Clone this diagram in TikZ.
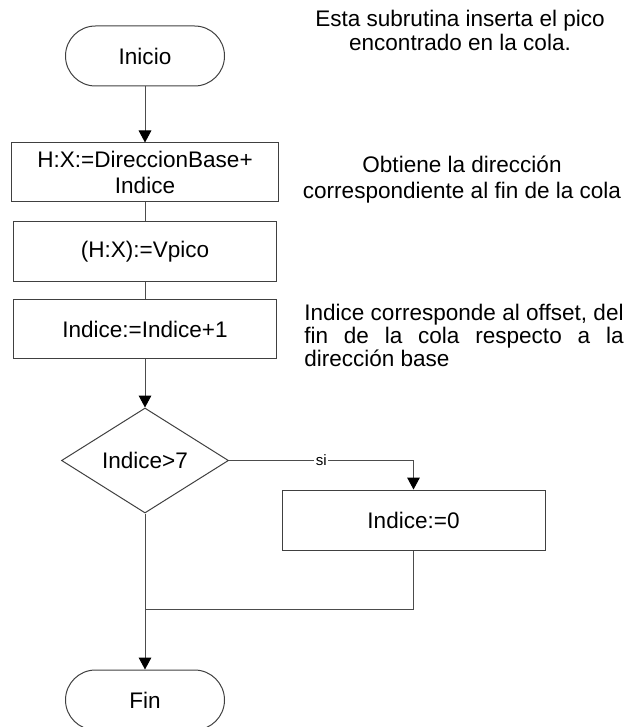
\documentclass[tikz,border=0pt]{standalone}
\usepackage{fontspec}
\setmainfont{Liberation Sans}
\usetikzlibrary{arrows.meta,shapes.geometric}
\newcommand{\grande}{\fontsize{16.9pt}{19.5pt}\selectfont}
\newcommand{\chica}{\fontsize{11.3pt}{13pt}\selectfont}
\tikzstyle{term} = [rectangle, rounded corners=22.5pt, draw=black!75, line width=0.75pt, minimum width=119.25pt, minimum height=45pt, font=\grande]
\tikzstyle{proc} = [rectangle, draw=black!75, line width=0.75pt, minimum width=197.25pt, minimum height=44.5pt, inner sep=0pt, align=center, font=\grande]
\tikzstyle{decis} = [diamond, aspect=1.6, draw=black!75, line width=0.75pt, minimum width=125.25pt, minimum height=78.75pt, inner sep=0pt, font=\grande]
\tikzstyle{nota} = [inner sep=0pt, font=\grande]
\tikzstyle{linea} = [draw=black!70, line width=0.75pt]
\tikzstyle{flecha} = [linea, -{Triangle[length=9pt,width=9.5pt,black]}]
\tikzstyle{etiq} = [fill=white, inner sep=1pt, font=\chica]

\begin{document}
\begin{tikzpicture}[x=0.75pt, y=-0.75pt]%
	\useasboundingbox (0,0) rectangle (632,727);%
	% bloques
	\node [term] (inicio) at (145,56) {Inicio};%
	\node [proc, minimum width=200.25pt, minimum height=44.25pt] (base) at (145,172.5) {H:X:=DireccionBase+\\Indice};%
	\node [proc] (vpico) at (145,251.5) {(H:X):=Vpico};%
	\node [proc] (incr) at (145,329) {Indice:=Indice+1};%
	\node [decis] (comp) at (145,460.5) {Indice>7};%
	\node [proc, minimum height=45pt] (cero) at (413.5,520) {Indice:=0};%
	\node [term] (fin) at (145,700) {Fin};%
	\coordinate (union) at (145,609.5);%
	% notas
	\node [nota, align=center, font=\fontsize{16.9pt}{18pt}\selectfont] (nota1) at (460,30) {Esta subrutina inserta el pico\\encontrado en la cola.};%
	\node [nota, align=center] (nota2) at (462,180) {Obtiene la dirección\\correspondiente al fin de la cola};%
	\node [nota, anchor=west, text width=239.5pt, align=justify, font=\fontsize{16.9pt}{17.25pt}\selectfont] (nota3) at (304,335) {Indice corresponde al offset, del\linebreak fin de la cola respecto a la\linebreak dirección base};%
	% conexiones
	\draw [flecha] (inicio) -- (base);%
	\draw [linea] (base) -- (vpico);%
	\draw [linea] (vpico) -- (incr);%
	\draw [flecha] (incr) -- (comp);%
	\draw [flecha] (comp.east) -- node [etiq] {si} (comp.east -| cero.north) -- (cero.north);%
	\draw [linea] (cero.south) |- (union);%
	\draw [flecha] (comp.south) -- (fin.north);%
\end{tikzpicture}
\end{document}
